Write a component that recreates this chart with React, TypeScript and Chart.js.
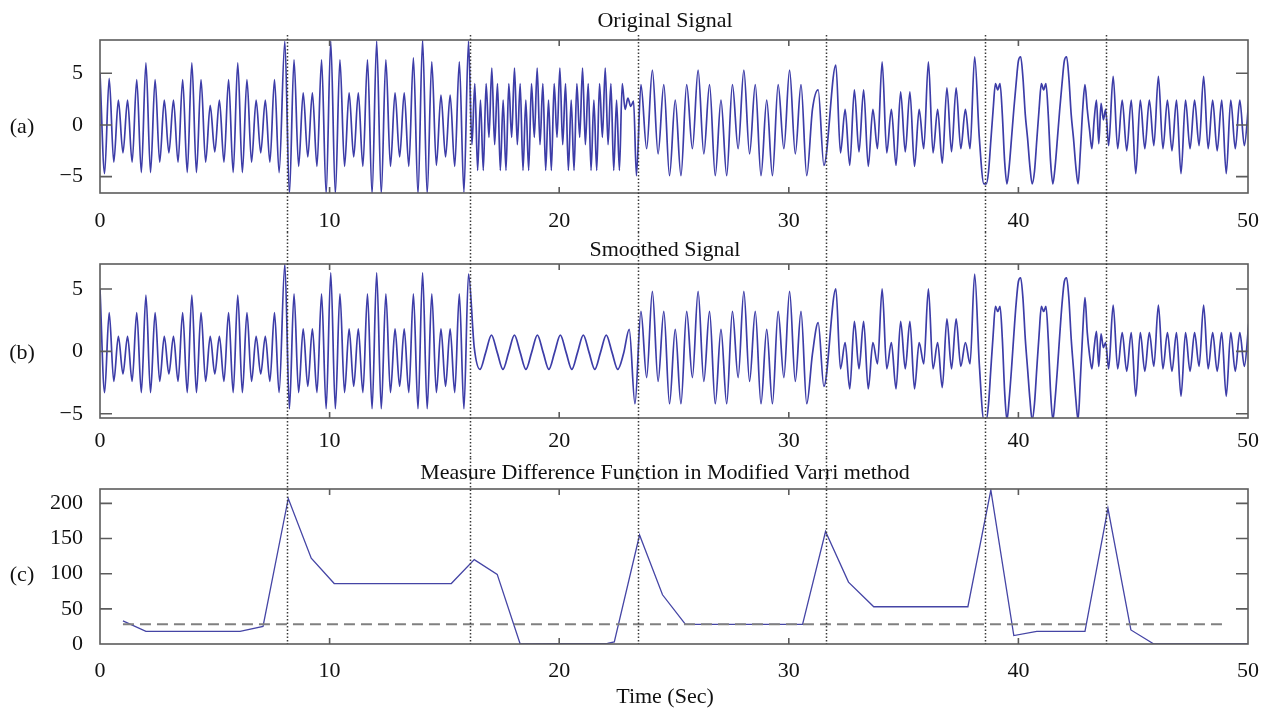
import React, { useEffect, useRef } from 'react';
import { Chart, registerables } from 'chart.js';

Chart.register(...registerables);

const FONT = '"Liberation Serif", "Times New Roman", serif';
const INK = '#111111';
const SIGNAL_COLOR = '#3d3da8';

// ---------- shared axis data ----------
const markerTimes = [8.13, 16.13, 23.45, 31.62, 38.53, 43.81];
const xTickValues = [0, 10, 20, 30, 40, 50];
const xTickLabels = ['0', '10', '20', '30', '40', '50'];
const signalYTicks = [-5, 0, 5];
const signalYLabels = ['\u22125', '0', '5'];
const mdfYTicks = [0, 50, 100, 150, 200];
const mdfYLabels = ['0', '50', '100', '150', '200'];

// ---------- (a) original signal: extrema read per segment ----------
const origStarts = [0, 8.05, 16.2, 23.56, 32.05, 38.6, 43.93];
const origSteps = [0.2, 0.2, 0.1235, 0.249, 0.2015, 0.1, 0.197];
const origSeg1 = [
  5.0, -4.7, 4.5, -3.6, 2.4, -2.7, 2.4, -3.6, 4.4, -4.6,
  6.0, -4.6, 4.4, -3.6, 2.4, -2.7, 2.4, -3.6, 4.4, -4.6,
  6.0, -4.6, 4.4, -3.6, 1.9, -2.6, 2.4, -3.6, 4.4, -4.6,
  6.0, -4.6, 4.4, -3.6, 2.4, -2.7, 2.4, -3.6, 4.4, -4.6,
];
const origSeg2 = [
  8.1, -6.6, 6.3, -4.0, 3.1, -3.1, 3.1, -4.0, 6.3, -6.6,
  8.1, -6.6, 6.3, -4.0, 3.1, -3.1, 3.1, -4.0, 6.3, -6.6,
  8.1, -6.6, 6.3, -4.0, 3.1, -3.1, 3.1, -4.0, 6.5, -6.6,
  8.2, -6.6, 6.1, -3.9, 2.9, -3.1, 2.9, -4.0, 6.1, -6.5,
  8.1,
];
const origSeg3 = [
  -1.9, 4.0, -4.4, 2.4, -4.4, 4.0, -1.2, 5.5,
  -1.9, 4.0, -4.4, 2.4, -4.4, 4.0, -1.2, 5.5,
  -1.9, 4.0, -4.4, 2.4, -4.4, 4.0, -1.2, 5.5,
  -1.9, 4.0, -4.4, 2.4, -4.4, 4.0, -1.2, 5.5,
  -1.9, 4.0, -4.4, 2.4, -4.4, 4.0, -1.2, 5.5,
  -1.9, 4.0, -4.4, 2.4, -4.4, 4.0, -1.2, 5.5,
  -1.9, 4.0, -4.4, 2.4, -4.4, 4.0, 1.5, 2.6, 1.8, 2.3, -4.9,
];
const origSeg4 = [
  3.9, -2.3,
  5.3, -2.8, 3.9, -4.9, 2.4, -4.9, 3.9, -2.3,
  5.3, -2.8, 3.9, -4.9, 2.4, -4.9, 3.9, -2.3,
  5.3, -2.8, 3.9, -4.9, 2.4, -4.9, 3.9, -2.3,
  5.3, -2.8, 3.9, -4.9, 1.5, 3.4, -3.9,
];
const origSeg5 = [
  5.8, -2.7, 1.5, -3.9, 3.4, -2.6, 3.4, -4.0, 1.5, -2.3,
  6.1, -2.7, 1.5, -3.9, 3.2, -2.6, 3.2, -4.0, 1.5, -2.3,
  6.1, -2.7, 1.5, -3.7, 3.6, -2.6, 3.6, -2.3, 1.5, -2.3,
  6.6, -1.2, -5.7,
];
const origSeg6 = [
  -5.7, -4.5, -1.5, 1.5, 4.0, 3.4, 4.0, 1.0, -3.5, -5.7,
  -4.0, -1.3, 1.5, 4.0, 6.2, 6.6, 4.5, 1.0, -1.3, -4.0,
  -5.7, -4.5, -1.5, 1.5, 4.0, 3.4, 4.0, 1.0, -3.5, -5.7,
  -4.0, -1.3, 1.5, 4.0, 6.2, 6.6, 4.5, 1.0, -1.3, -4.0,
  -5.7, -2.5, 1.5, 3.9, 1.5, -0.5, -2.3, 0.5, 2.4, -1.8,
  2.1, 0.5, 1.5,
];
const origSeg7 = [
  -2.0,
  4.7, -2.3, 2.4, -2.5, 2.4, -4.7, 2.4, -2.3, 2.4, -2.0,
  4.7, -2.3, 2.4, -2.5, 2.4, -4.7, 2.4, -2.3, 2.4, -2.0,
  4.7, -2.3, 2.4, -2.5, 2.4, -4.7, 2.4, -2.3, 2.4, -2.0,
  2.4,
];

// ---------- (b) smoothed signal ----------
const smoothStarts = [0, 8.05, 16.3, 23.56, 32.05, 38.6, 43.93];
const smoothSteps = [0.2, 0.2, 0.25, 0.249, 0.2015, 0.1, 0.197];
const smoothSeg1 = [
  5.0, -3.3, 3.1, -2.4, 1.2, -1.8, 1.2, -2.4, 3.1, -3.3,
  4.5, -3.3, 3.1, -2.4, 1.2, -1.8, 1.2, -2.4, 3.1, -3.3,
  4.5, -3.3, 3.1, -2.4, 1.2, -1.8, 1.2, -2.4, 3.1, -3.3,
  4.5, -3.3, 3.1, -2.4, 1.2, -1.8, 1.2, -2.4, 3.1, -3.3,
];
const smoothSeg2 = [
  7.0, -4.6, 4.6, -3.3, 1.8, -2.8, 1.8, -3.3, 4.6, -4.6,
  6.3, -4.6, 4.6, -3.3, 1.8, -2.8, 1.8, -3.3, 4.6, -4.6,
  6.3, -4.6, 4.6, -3.3, 1.8, -2.8, 1.8, -3.3, 4.6, -4.6,
  6.3, -4.6, 4.6, -3.3, 1.8, -2.8, 1.8, -3.3, 4.6, -4.6,
  6.2,
];
const smoothSeg3 = [
  0.3, -1.44, -0.08, 1.3, -0.08, -1.44, -0.08, 1.3, -0.08, -1.44,
  -0.08, 1.3, -0.08, -1.44, -0.08, 1.3, -0.08, -1.44, -0.08, 1.3,
  -0.08, -1.44, -0.08, 1.3, -0.08, -1.44, -0.2, 1.76, -4.2,
];
const smoothSeg4 = [
  3.2, -2.1,
  4.8, -2.4, 3.2, -4.2, 1.76, -4.2, 3.2, -2.1,
  4.8, -2.4, 3.2, -4.2, 1.76, -4.2, 3.2, -2.1,
  4.8, -2.4, 3.2, -4.2, 1.76, -4.2, 3.2, -2.1,
  4.8, -2.4, 3.2, -4.2, -0.2, 2.3, -2.8,
];
const smoothSeg5 = [
  5.0, -1.4, 0.7, -3.0, 2.4, -1.4, 2.4, -3.0, 0.7, -1.0,
  5.0, -1.4, 0.7, -3.0, 2.4, -1.4, 2.4, -3.0, 0.7, -1.0,
  5.0, -1.4, 0.7, -2.9, 2.6, -1.4, 2.6, -1.2, 0.7, -1.0,
  6.2, -1.0, -5.5,
];
const smoothSeg6 = [
  -5.5, -4.2, -1.4, 1.3, 3.6, 3.2, 3.6, 1.0, -3.2, -5.5,
  -3.8, -1.4, 1.3, 3.8, 5.6, 5.9, 4.2, 1.0, -1.4, -3.8,
  -5.5, -4.2, -1.4, 1.3, 3.6, 3.2, 3.6, 1.0, -3.2, -5.5,
  -3.8, -1.4, 1.3, 3.8, 5.6, 5.9, 4.2, 1.0, -1.4, -3.8,
  -5.5, -2.2, 1.5, 4.3, 1.5, -0.3, -1.4, 0.3, 1.6, -1.2,
  1.4, 0.3, 0.7,
];
const smoothSeg7 = [
  -1.4,
  3.7, -1.4, 1.5, -1.6, 1.5, -3.6, 1.5, -1.6, 1.5, -1.2,
  3.7, -1.4, 1.5, -1.6, 1.5, -3.6, 1.5, -1.6, 1.5, -1.2,
  3.7, -1.4, 1.5, -1.6, 1.5, -3.6, 1.5, -1.6, 1.5, -1.2,
  2.3,
];

// ---------- (c) measure difference function ----------
const mdfTimes = [1, 2, 6.1, 7.1, 8.2, 9.2, 10.2, 15.3, 16.3, 17.3, 18.3, 22.1, 22.4, 23.5, 24.5, 25.5, 30.6, 31.6, 32.6, 33.7, 37.8, 38.8, 39.8, 40.8, 42.9, 43.9, 44.9, 45.9, 50];
const mdfValues = [33, 18, 18, 25, 207, 122, 86, 86, 120, 99, 0, 1, 3, 155, 70, 28, 28, 160, 88, 53, 53, 219, 12, 18, 18, 193, 20, 0, 0];
const thresholdTimes = [1, 49];
const thresholdValues = [28, 28];

type Pt = { x: number; y: number };

function buildSignal(starts: number[], steps: number[], segs: number[][]): Pt[] {
  const pts: Pt[] = [];
  segs.forEach((vals, s) => {
    vals.forEach((v, i) => {
      pts.push({ x: Math.round((starts[s] + i * steps[s]) * 10000) / 10000, y: v });
    });
  });
  return pts;
}

function zip(xs: number[], ys: number[]): Pt[] {
  return xs.map((x, i) => ({ x, y: ys[i] }));
}

const decorPlugin = {
  id: 'decor',
  afterDatasetsDraw(chart: any, _args: any, opts: any) {
    const { ctx, chartArea: a, scales } = chart;
    const xs = scales.x;
    const ys = scales.y;
    ctx.save();
    ctx.strokeStyle = '#5c5c5c';
    ctx.lineWidth = 1.6;
    ctx.setLineDash([]);
    ctx.strokeRect(a.left, a.top, a.right - a.left, a.bottom - a.top);
    ctx.beginPath();
    for (const v of xTickValues) {
      if (v <= xs.min || v >= xs.max) continue;
      const px = xs.getPixelForValue(v);
      ctx.moveTo(px, a.top);
      ctx.lineTo(px, a.top + 6);
      ctx.moveTo(px, a.bottom);
      ctx.lineTo(px, a.bottom - 6);
    }
    for (const v of opts.yTicks as number[]) {
      if (v <= ys.min || v >= ys.max) continue;
      const py = ys.getPixelForValue(v);
      ctx.moveTo(a.left, py);
      ctx.lineTo(a.left + 12, py);
      ctx.moveTo(a.right, py);
      ctx.lineTo(a.right - 12, py);
    }
    ctx.stroke();
    ctx.restore();
  },
  afterDraw(chart: any, _args: any, opts: any) {
    const { ctx, chartArea: a, scales } = chart;
    ctx.save();
    // dotted segment markers
    ctx.strokeStyle = '#3a3a3a';
    ctx.lineWidth = 1.5;
    ctx.setLineDash([1.5, 2]);
    ctx.beginPath();
    const yEnd = opts.markToArea ? a.bottom : chart.height;
    for (const t of markerTimes) {
      const px = Math.round(scales.x.getPixelForValue(t)) + 0.5;
      ctx.moveTo(px, opts.markTop);
      ctx.lineTo(px, yEnd);
    }
    ctx.stroke();
    ctx.setLineDash([]);
    // texts
    ctx.fillStyle = INK;
    ctx.font = `22px ${FONT}`;
    ctx.textAlign = 'center';
    ctx.textBaseline = 'middle';
    ctx.fillText(opts.title, 665, opts.titleY);
    ctx.fillText(opts.label, 22, scales.y.getPixelForValue(opts.labelValue) + 2);
    if (opts.xTitle) ctx.fillText(opts.xTitle, 665, opts.xTitleY);
    ctx.restore();
  },
};

interface PanelSpec {
  top: number;
  height: number;
  areaTop: number;
  areaBottom: number;
  yMin: number;
  yMax: number;
  yTicks: number[];
  yLabels: string[];
  xLabelPad: number;
  title: string;
  titleY: number;
  label: string;
  labelValue: number;
  xTitle?: string;
  xTitleY?: number;
  markTop: number;
  markToArea: boolean;
  datasets: any[];
}

function Panel({ spec }: { spec: PanelSpec }) {
  const ref = useRef<HTMLCanvasElement>(null);
  useEffect(() => {
    const tickFont = { family: FONT, size: 22 };
    const chart = new Chart(ref.current as HTMLCanvasElement, {
      type: 'line',
      data: { datasets: spec.datasets },
      options: {
        responsive: false,
        animation: false,
        events: [],
        layout: { padding: { left: 0, right: 17, top: spec.areaTop, bottom: 0 } },
        plugins: {
          legend: { display: false },
          tooltip: { enabled: false },
          title: { display: false },
          decor: {
            yTicks: spec.yTicks,
            title: spec.title,
            titleY: spec.titleY,
            label: spec.label,
            labelValue: spec.labelValue,
            xTitle: spec.xTitle,
            xTitleY: spec.xTitleY,
            markTop: spec.markTop,
            markToArea: spec.markToArea,
          },
        } as any,
        scales: {
          x: {
            type: 'linear',
            min: 0,
            max: 50,
            grid: { display: false, drawTicks: false },
            border: { display: false },
            afterBuildTicks: (s: any) => {
              s.ticks = xTickValues.map((v) => ({ value: v }));
            },
            afterFit: (s: any) => {
              s.height = spec.height - spec.areaBottom;
              s.paddingLeft = 0;
              s.paddingRight = 0;
            },
            ticks: {
              padding: spec.xLabelPad,
              maxRotation: 0,
              autoSkip: false,
              color: INK,
              font: tickFont,
              callback: (_v: any, i: number) => xTickLabels[i],
            },
          },
          y: {
            type: 'linear',
            min: spec.yMin,
            max: spec.yMax,
            grid: { display: false, drawTicks: false },
            border: { display: false },
            afterBuildTicks: (s: any) => {
              s.ticks = spec.yTicks.map((v) => ({ value: v }));
            },
            afterFit: (s: any) => {
              s.width = 100;
              s.paddingTop = 0;
              s.paddingBottom = 0;
            },
            ticks: {
              padding: 17,
              autoSkip: false,
              color: INK,
              font: tickFont,
              callback: (_v: any, i: number) => spec.yLabels[i],
            },
          },
        },
      } as any,
      plugins: [decorPlugin as any],
    });
    return () => chart.destroy();
  }, [spec]);
  return (
    <canvas
      ref={ref}
      width={1265}
      height={spec.height}
      style={{ position: 'absolute', left: 0, top: spec.top, width: 1265, height: spec.height }}
    />
  );
}

const signalLine = (data: Pt[]) => ({
  data,
  borderColor: SIGNAL_COLOR,
  borderWidth: 1.7,
  pointRadius: 0,
  cubicInterpolationMode: 'monotone',
  fill: false,
});

const panelA: PanelSpec = {
  top: 0,
  height: 232,
  areaTop: 40,
  areaBottom: 193,
  yMin: -6.58,
  yMax: 8.22,
  yTicks: signalYTicks,
  yLabels: signalYLabels,
  xLabelPad: 15,
  title: 'Original Signal',
  titleY: 21,
  label: '(a)',
  labelValue: 0,
  markTop: 35,
  markToArea: false,
  datasets: [
    signalLine(buildSignal(origStarts, origSteps, [origSeg1, origSeg2, origSeg3, origSeg4, origSeg5, origSeg6, origSeg7])),
  ],
};

const panelB: PanelSpec = {
  top: 232,
  height: 226,
  areaTop: 32,
  areaBottom: 186,
  yMin: -5.34,
  yMax: 7.0,
  yTicks: signalYTicks,
  yLabels: signalYLabels,
  xLabelPad: 10,
  title: 'Smoothed Signal',
  titleY: 18,
  label: '(b)',
  labelValue: 0,
  markTop: 0,
  markToArea: false,
  datasets: [
    signalLine(buildSignal(smoothStarts, smoothSteps, [smoothSeg1, smoothSeg2, smoothSeg3, smoothSeg4, smoothSeg5, smoothSeg6, smoothSeg7])),
  ],
};

const panelC: PanelSpec = {
  top: 458,
  height: 252,
  areaTop: 31,
  areaBottom: 186,
  yMin: 0,
  yMax: 220.5,
  yTicks: mdfYTicks,
  yLabels: mdfYLabels,
  xLabelPad: 14,
  title: 'Measure Difference Function in Modified Varri method',
  titleY: 15,
  label: '(c)',
  labelValue: 100,
  xTitle: 'Time (Sec)',
  xTitleY: 239,
  markTop: 0,
  markToArea: true,
  datasets: [
    {
      data: zip(thresholdTimes, thresholdValues),
      borderColor: '#808080',
      borderWidth: 2,
      borderDash: [11, 6],
      pointRadius: 0,
      fill: false,
    },
    {
      data: zip(mdfTimes, mdfValues),
      borderColor: '#4545a5',
      borderWidth: 1.3,
      pointRadius: 0,
      tension: 0,
      fill: false,
    },
  ],
};

export default function App() {
  return (
    <div style={{ position: 'fixed', left: 0, top: 0, width: 1265, height: 710, background: '#ffffff', overflow: 'hidden' }}>
      <Panel spec={panelA} />
      <Panel spec={panelB} />
      <Panel spec={panelC} />
    </div>
  );
}
